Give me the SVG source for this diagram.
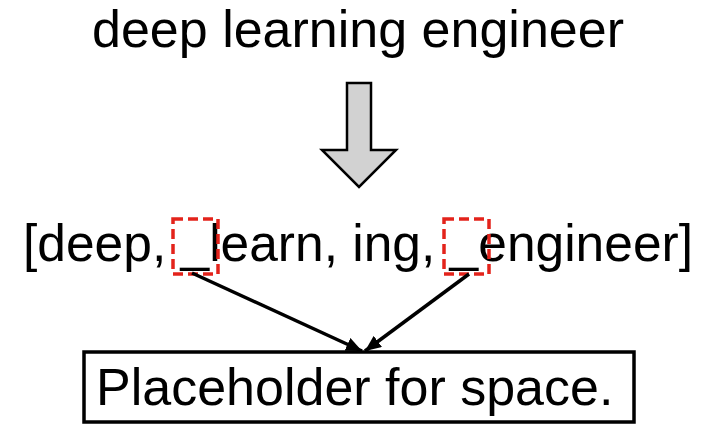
<svg xmlns="http://www.w3.org/2000/svg" width="713" height="437" viewBox="0 0 713 437">
<style>
text{font-family:"Liberation Sans",Arial,Helvetica,sans-serif;font-size:52px;fill:#000}
.dash{fill:none;stroke:#e3231b;stroke-width:3.5;stroke-dasharray:10 5}
.conn{stroke:#000;stroke-width:3.5;fill:none}
</style>
<defs>
<marker id="ah" viewBox="0 0 16 14" refX="16" refY="7" markerWidth="16" markerHeight="14" orient="auto" markerUnits="userSpaceOnUse">
<path d="M0,0 L16,7 L0,14 z" fill="#000"/>
</marker>
</defs>
<rect width="713" height="437" fill="#fff"/>
<g id="title"><text x="92" y="47">deep learning engineer</text></g>
<g id="big-arrow"><polygon points="347,83 371,83 371,150 396,150 359,187 322,150 347,150" fill="#d2d2d2" stroke="#000" stroke-width="2.5"/></g>
<g id="tokens"><text x="23" y="261" style="font-size:51.5px">[deep, _learn, ing, _engineer]</text></g>
<g id="mark1"><rect class="dash" x="173" y="219" width="45" height="55"/></g>
<g id="mark2"><rect class="dash" x="444" y="219" width="45" height="55"/></g>
<g id="connectors">
<line class="conn" x1="192" y1="273" x2="362" y2="351" marker-end="url(#ah)"/>
<line class="conn" x1="469" y1="274" x2="365" y2="351" marker-end="url(#ah)"/>
</g>
<g id="placeholder"><rect x="84" y="352" width="550" height="70" fill="#fff" stroke="#000" stroke-width="3.5"/><text x="96" y="405">Placeholder for space.</text></g>
</svg>
